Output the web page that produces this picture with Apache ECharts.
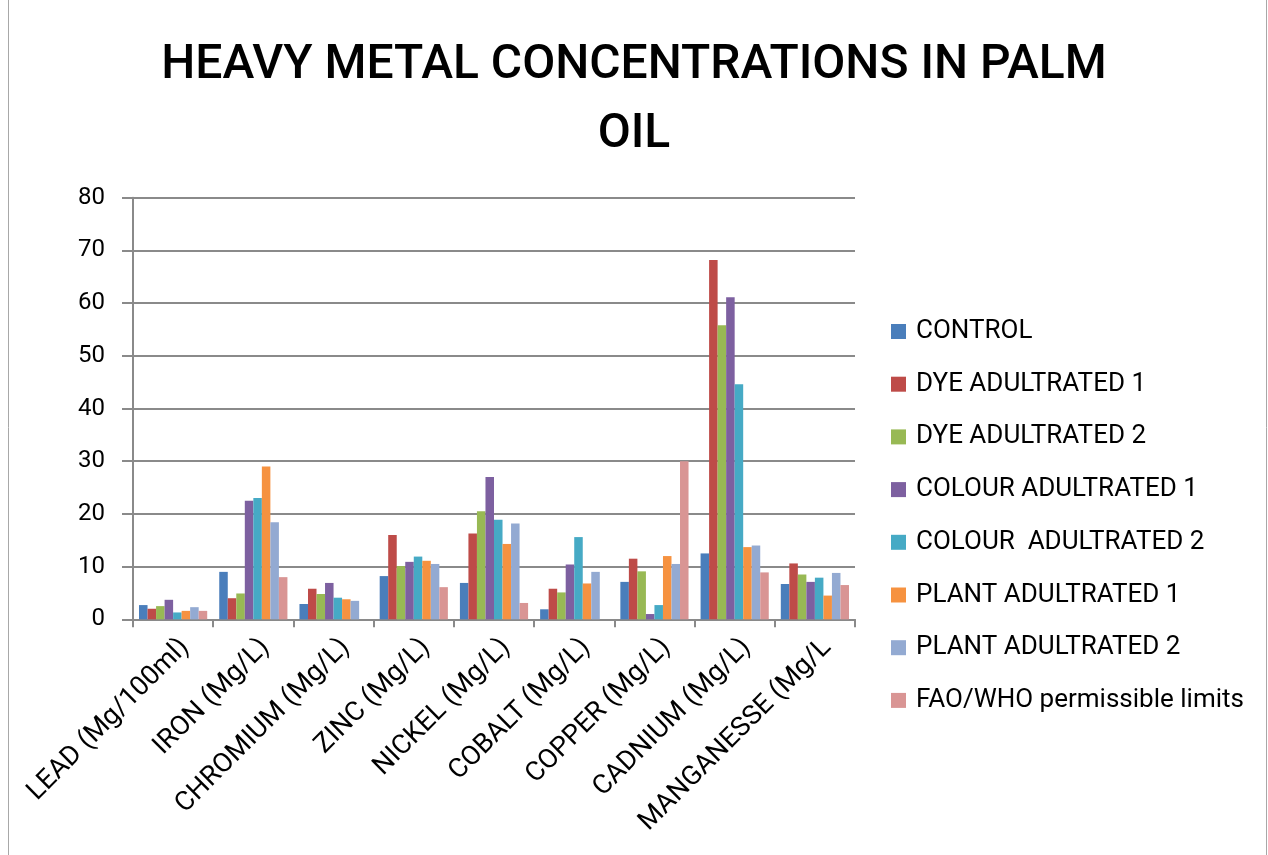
<!DOCTYPE html>
<html>
<head>
<meta charset="utf-8">
<script src="https://cdn.jsdelivr.net/npm/echarts@6/dist/echarts.min.js"></script>
<style>
html,body{margin:0;padding:0;background:#fff;}
#chart{width:1268px;height:855px;}
</style>
</head>
<body>
<div id="chart"></div>
<script>
const categories = ['LEAD (Mg/100ml)','IRON (Mg/L)','CHROMIUM (Mg/L)','ZINC (Mg/L)','NICKEL (Mg/L)','COBALT (Mg/L)','COPPER (Mg/L)','CADNIUM (Mg/L)','MANGANESSE (Mg/L'];
const seriesNames = ['CONTROL','DYE ADULTRATED 1','DYE ADULTRATED 2','COLOUR ADULTRATED 1','COLOUR  ADULTRATED 2','PLANT ADULTRATED 1','PLANT ADULTRATED 2','FAO/WHO permissible limits'];
const control  = [2.7, 9.0, 2.9, 8.2, 6.9, 1.9, 7.1, 12.5, 6.7];
const dye1     = [2.0, 4.0, 5.8, 16.0, 16.3, 5.8, 11.5, 68.2, 10.6];
const dye2     = [2.5, 4.9, 4.8, 10.1, 20.5, 5.1, 9.1, 55.8, 8.5];
const colour1  = [3.7, 22.5, 6.9, 10.9, 27.0, 10.4, 1.0, 61.1, 7.1];
const colour2  = [1.3, 23.0, 4.1, 11.9, 18.9, 15.6, 2.7, 44.6, 7.9];
const plant1   = [1.6, 29.0, 3.8, 11.1, 14.3, 6.8, 12.0, 13.7, 4.5];
const plant2   = [2.3, 18.4, 3.5, 10.5, 18.2, 9.0, 10.5, 14.0, 8.8];
const faoWho   = [1.6, 8.0, 0, 6.1, 3.1, 0, 30.0, 8.9, 6.5];
const yTicks = [0, 10, 20, 30, 40, 50, 60, 70, 80];

const colors = ['#4A7EBB','#BE4B48','#98B954','#7D60A0','#46AAC5','#F69240','#93AAD2','#D99594'];
const values = [control, dye1, dye2, colour1, colour2, plant1, plant2, faoWho];

const chart = echarts.init(document.getElementById('chart'));
const FONT = 'Roboto';
chart.setOption({
  backgroundColor: '#ffffff',
  animation: false,
  color: colors,
  textStyle: { fontFamily: FONT },
  title: {
    text: 'HEAVY METAL CONCENTRATIONS IN PALM\nOIL',
    left: 'center',
    top: 31,
    padding: 0,
    textStyle: { fontFamily: FONT, fontSize: 48, fontWeight: 500, color: '#000', lineHeight: 69 }
  },
  legend: {
    orient: 'vertical',
    left: 891,
    top: 318,
    itemWidth: 15,
    itemHeight: 15,
    itemGap: 25.7,
    icon: 'rect',
    padding: 0,
    textStyle: { fontFamily: FONT, fontSize: 26, color: '#000', lineHeight: 27, padding: [0, 0, 0, 5] },
    data: seriesNames
  },
  graphic: [{
    type: 'rect',
    silent: true,
    shape: { x: 8.5, y: -5, width: 1258, height: 870 },
    style: { fill: 'none', stroke: '#a8a8a8', lineWidth: 1 }
  }],
  grid: { left: 133, right: 413, top: 197.7, bottom: 235.7, containLabel: false, outerBoundsMode: 'none' },
  xAxis: {
    type: 'category',
    data: categories,
    axisLine: { lineStyle: { color: '#8a8a8a', width: 2 } },
    axisTick: { show: true, length: 8, lineStyle: { color: '#8a8a8a', width: 2 } },
    axisLabel: {
      interval: 0,
      rotate: 45,
      margin: 12,
      fontFamily: FONT,
      fontSize: 27,
      color: '#000',
      verticalAlign: 'top',
      lineHeight: 34
    }
  },
  yAxis: {
    type: 'value',
    min: yTicks[0],
    max: yTicks[yTicks.length - 1],
    interval: 10,
    axisLine: { show: true, lineStyle: { color: '#8a8a8a', width: 2 } },
    axisTick: { show: true, length: 11, lineStyle: { color: '#8a8a8a', width: 2 } },
    splitLine: { lineStyle: { color: '#8a8a8a', width: 2 } },
    axisLabel: { margin: 28, fontFamily: FONT, fontSize: 24, color: '#000' }
  },
  series: seriesNames.map((name, i) => ({
    name: name,
    type: 'bar',
    data: values[i],
    barGap: '0%',
    barCategoryGap: '15%',
    itemStyle: { color: colors[i] }
  }))
});
</script>
</body>
</html>
